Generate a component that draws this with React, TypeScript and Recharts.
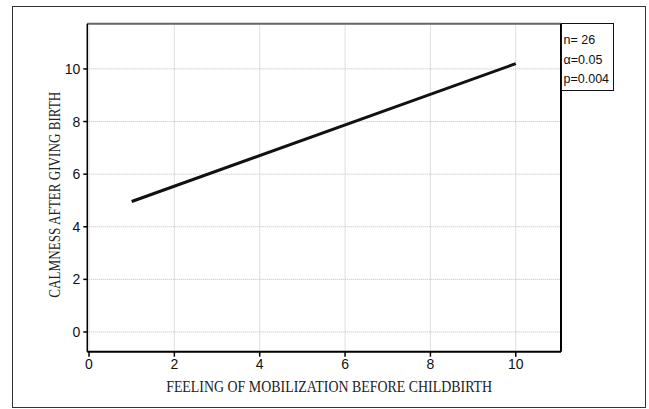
import React from "react";
import {
  LineChart,
  Line,
  XAxis,
  YAxis,
  CartesianGrid,
  ReferenceLine,
  Label,
} from "recharts";

// ---- data ----
const fitX = [1, 10];
const fitY = [4.96, 10.2];
const xTicks = [0, 2, 4, 6, 8, 10];
const yTicks = [0, 2, 4, 6, 8, 10];
const statsLines = ["n= 26", "α=0.05", "p=0.004"];
const xTitle = "FEELING OF MOBILIZATION BEFORE CHILDBIRTH";
const yTitle = "CALMNESS AFTER GIVING BIRTH";

const X_DOMAIN: [number, number] = [-0.04, 11.06];
const Y_DOMAIN: [number, number] = [-0.75, 11.72];

const data = fitX.map((x, i) => ({ x, y: fitY[i] }));

const SANS = "'Liberation Sans Narrow', 'Liberation Sans', Arial, sans-serif";
const SERIF = "'Liberation Serif', 'Times New Roman', serif";

const XTitle = (props: any) => {
  const vb = props.viewBox || { x: 87, y: 352, width: 474, height: 30 };
  const cx = vb.x + vb.width / 2 + 5;
  const by = vb.y + 40;
  return (
    <text
      x={cx}
      y={by}
      textAnchor="middle"
      fontFamily={SERIF}
      fontSize={16}
      fill="#222"
      textLength={326}
      lengthAdjust="spacingAndGlyphs"
    >
      {xTitle}
    </text>
  );
};

const YTitle = (props: any) => {
  const vb = props.viewBox || { x: 47, y: 24, width: 40, height: 328 };
  const bx = vb.x + 13;
  const cy = vb.y + vb.height / 2 + 7;
  return (
    <text
      x={bx}
      y={cy}
      transform={`rotate(-90, ${bx}, ${cy})`}
      textAnchor="middle"
      fontFamily={SERIF}
      fontSize={16}
      fill="#222"
      textLength={206}
      lengthAdjust="spacingAndGlyphs"
    >
      {yTitle}
    </text>
  );
};

export default function App() {
  return (
    <div
      style={{
        position: "absolute",
        left: 0,
        top: 0,
        width: 649,
        height: 409,
        background: "#fff",
      }}
    >
      <div
        style={{
          position: "absolute",
          left: 12,
          top: 6,
          width: 634,
          height: 402,
          boxSizing: "border-box",
          border: "1px solid #333",
        }}
      />
      <div style={{ position: "absolute", left: 0, top: 0 }}>
        <LineChart
          width={649}
          height={409}
          data={data}
          margin={{ top: 23.7, right: 88, bottom: 27.3, left: 47.3 }}
        >
          <CartesianGrid stroke="#bdbdbd" strokeDasharray="1 1" />
          <XAxis
            type="number"
            dataKey="x"
            domain={X_DOMAIN}
            ticks={xTicks}
            allowDataOverflow
            height={30}
            tickSize={5}
            tickMargin={2}
            axisLine={{ stroke: "#000", strokeWidth: 2 }}
            tickLine={{ stroke: "#000", strokeWidth: 1.5 }}
            tick={{ fill: "#111", fontSize: 14, fontFamily: SANS }}
          >
            <Label content={XTitle} />
          </XAxis>
          <YAxis
            type="number"
            domain={Y_DOMAIN}
            ticks={yTicks}
            allowDataOverflow
            width={40}
            tickSize={4}
            tickMargin={3}
            axisLine={{ stroke: "#000", strokeWidth: 1.5 }}
            tickLine={{ stroke: "#000", strokeWidth: 1.5 }}
            tick={{ fill: "#111", fontSize: 14, fontFamily: SANS }}
          >
            <Label content={YTitle} />
          </YAxis>
          <ReferenceLine y={Y_DOMAIN[1]} stroke="#666" strokeWidth={2} />
          <ReferenceLine x={X_DOMAIN[1]} stroke="#000" strokeWidth={2} />
          <Line
            type="linear"
            dataKey="y"
            stroke="#111"
            strokeWidth={3}
            dot={false}
            isAnimationActive={false}
          />
        </LineChart>
      </div>
      <div
        style={{
          position: "absolute",
          left: 561,
          top: 23,
          width: 53,
          height: 68,
          boxSizing: "border-box",
          border: "1px solid #111",
          paddingTop: 7,
          paddingLeft: 1.5,
          fontFamily: SANS,
          fontSize: 12.5,
          color: "#111",
        }}
      >
        {statsLines.map((s) => (
          <div key={s} style={{ lineHeight: "19.7px", whiteSpace: "nowrap" }}>
            {s}
          </div>
        ))}
      </div>
    </div>
  );
}
